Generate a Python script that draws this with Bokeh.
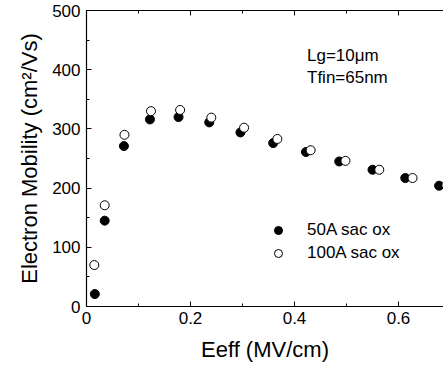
from bokeh.plotting import figure
from bokeh.models import (Range1d, LinearAxis, Legend, LegendItem, Label,
                          FixedTicker)
from bokeh.embed import file_html
from bokeh.resources import INLINE

# ---- data ----
eeff_50 = [0.016, 0.035, 0.072, 0.122, 0.177, 0.236, 0.296, 0.359, 0.422, 0.486, 0.550, 0.613, 0.678]
mob_50 = [21, 145, 271, 316, 320, 311, 294, 276, 261, 245, 231, 217, 204]
eeff_100 = [0.015, 0.035, 0.073, 0.124, 0.180, 0.240, 0.303, 0.367, 0.431, 0.498, 0.563, 0.627, 0.692]
mob_100 = [70, 171, 290, 330, 332, 319, 302, 283, 264, 246, 231, 217, 205]
series_names = ["50A sac ox", "100A sac ox"]
note_lines = ["Lg=10μm", "Tfin=65nm"]
note_x = 0.424
note_y = [424, 386]
x_major = [0.0, 0.2, 0.4, 0.6]
x_minor = [0.1, 0.3, 0.5]
y_major = [0, 100, 200, 300, 400, 500]
y_minor = [50, 150, 250, 350, 450]

FONT = "Liberation Sans"

p = figure(width=443, height=368, output_backend="svg", toolbar_location=None,
           x_range=Range1d(0, 0.6865), y_range=Range1d(0, 500),
           min_border_left=86, min_border_right=0, min_border_top=10,
           min_border_bottom=62, x_axis_location=None, y_axis_location=None)
p.outline_line_color = None
p.xgrid.visible = False
p.ygrid.visible = False
p.background_fill_color = "white"
p.border_fill_color = "white"


def style_axis(ax, labels=True):
    ax.axis_line_color = "black"
    ax.axis_line_width = 1.2
    ax.major_tick_in = 5
    ax.major_tick_out = 0
    ax.minor_tick_in = 3
    ax.minor_tick_out = 0
    ax.major_tick_line_color = "black"
    ax.minor_tick_line_color = "black"
    ax.major_label_text_font = FONT
    ax.major_label_text_font_size = "17px"
    ax.major_label_text_color = "black"
    ax.axis_label_text_font = FONT
    ax.axis_label_text_font_style = "normal"
    ax.axis_label_text_font_size = "22px"
    ax.axis_label_text_color = "black"
    if not labels:
        ax.major_label_text_font_size = "0px"
        ax.major_label_text_alpha = 0


xb = LinearAxis(axis_label="Eeff (MV/cm)",
                ticker=FixedTicker(ticks=x_major, minor_ticks=x_minor))
style_axis(xb)
xb.major_label_standoff = 5
xb.axis_label_standoff = 10
p.add_layout(xb, "below")

yl = LinearAxis(axis_label="Electron Mobility (cm²/Vs)",
                ticker=FixedTicker(ticks=y_major, minor_ticks=y_minor))
style_axis(yl)
yl.major_label_standoff = 6
yl.axis_label_standoff = 7
p.add_layout(yl, "left")

xt = LinearAxis(ticker=FixedTicker(ticks=x_major, minor_ticks=x_minor))
style_axis(xt, labels=False)
p.add_layout(xt, "above")

r50 = p.scatter(eeff_50, mob_50, size=9, marker="circle",
                fill_color="black", line_color="black")
r100 = p.scatter(eeff_100, mob_100, size=9, marker="circle",
                 fill_color="white", line_color="black", line_width=1)

legend = Legend(items=[LegendItem(label=series_names[0], renderers=[r50]),
                       LegendItem(label=series_names[1], renderers=[r100])],
                location=(182, 43), orientation="vertical",
                glyph_width=20, glyph_height=20, spacing=3, padding=0,
                margin=0, label_standoff=19,
                label_text_font=FONT, label_text_font_size="17px",
                label_text_color="black",
                border_line_color=None, background_fill_alpha=0)
p.add_layout(legend, "center")

for txt, yy in zip(note_lines, note_y):
    p.add_layout(Label(x=note_x, y=yy, text=txt, text_font=FONT,
                       text_font_size="17px", text_color="black",
                       text_baseline="alphabetic"))

open("out.html", "w").write(file_html(p, INLINE))
